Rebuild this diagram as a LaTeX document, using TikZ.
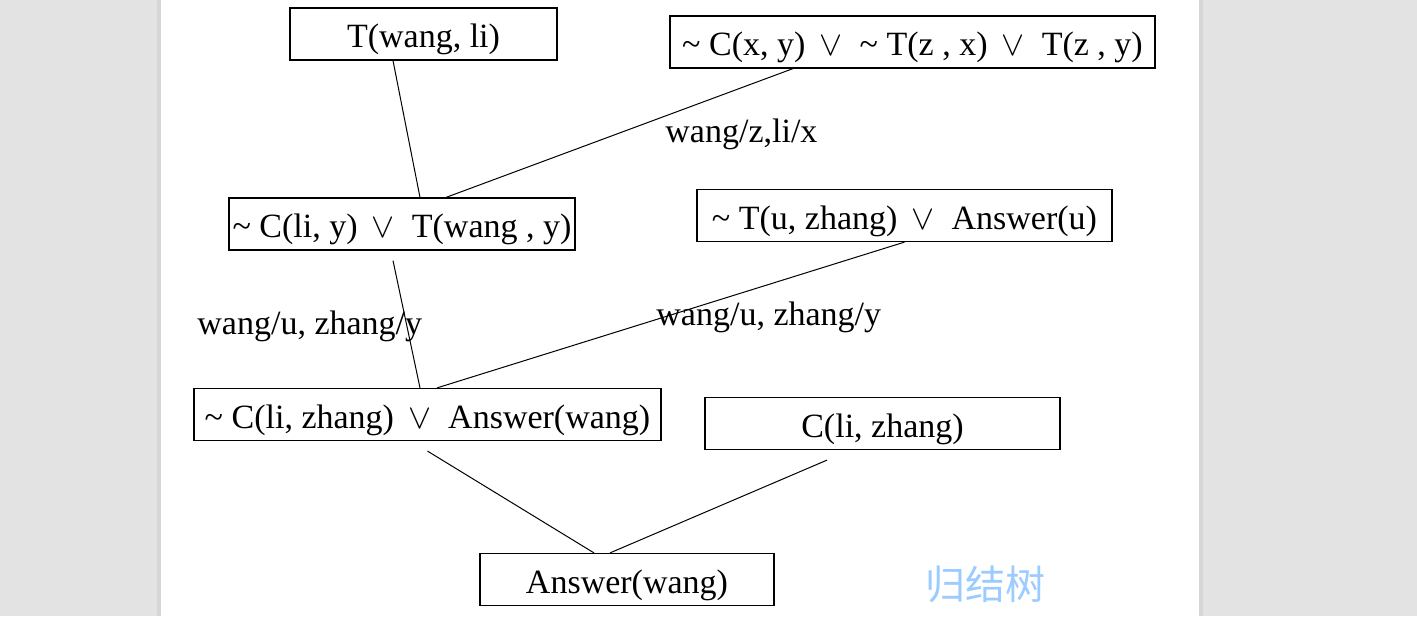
\documentclass[tikz,border=0pt]{standalone}
\usepackage{fontspec}
\setmainfont{Liberation Serif}
\newfontfamily\cjk{Noto Sans CJK SC}
\definecolor{deskgray}{HTML}{E3E3E3}
\definecolor{edgegray}{HTML}{D6D6D6}
\definecolor{treeblue}{HTML}{9CCBFF}
\newcommand{\disj}{\ \,$\vee$\ \ }
\newcommand{\negl}{\textasciitilde\ }

\tikzstyle{clause} = [rectangle, draw, line width=0.6pt, inner sep=0pt, minimum height=26pt, text height=19.75pt, text depth=6.25pt, font=\fontsize{17pt}{20pt}\selectfont]
\tikzstyle{subst} = [inner sep=0pt, anchor=west, font=\fontsize{17pt}{20pt}\selectfont]
\tikzstyle{line} = [draw, line width=0.5pt, color=black]

\begin{document}
\begin{tikzpicture}[x=0.5pt, y=-0.5pt]
    \useasboundingbox (0,0) rectangle (1417,616);
    % page and desk
    \fill [deskgray] (0,0) rectangle (161,616);
    \fill [deskgray] (1199,0) rectangle (1417,616);
    \fill [edgegray] (157,0) rectangle (161,616);
    \fill [edgegray] (1199,0) rectangle (1203,616);

    % Place nodes
    \node [clause, minimum width=133.5pt] (twangli) at (423.5,34) {T(wang, li)};
    \node [clause, minimum width=242.5pt] (rule) at (912.5,42) {\negl C(x, y)\disj\negl T(z , x)\disj T(z , y)};
    \node [clause, minimum width=173pt] (clit) at (402,224) {\negl C(li, y)\disj T(wang , y)};
    \node [clause, minimum width=207.5pt] (goal) at (904.5,215.5) {\negl T(u, zhang)\disj Answer(u)};
    \node [clause, minimum width=233.5pt] (cansw) at (427.5,414.5) {\negl C(li, zhang)\disj Answer(wang)};
    \node [clause, minimum width=177.5pt] (clizhang) at (882.5,423.5) {C(li, zhang)};
    \node [clause, minimum width=147pt] (answer) at (627,579.5) {Answer(wang)};

    \node [subst] (s1) at (665,134) {wang/z,li/x};
    \node [subst] (s2) at (197,326) {wang/u, zhang/y};
    \node [subst] (s3) at (656,317) {wang/u, zhang/y};

    \node [text=treeblue, font=\cjk\fontsize{20pt}{24pt}\selectfont] (title) at (985,584) {归结树};

    % Draw edges
    \path [line] ([xshift=-15.25pt]twangli.south) -- ([xshift=9pt]clit.north);
    \path [line] ([xshift=-59.75pt]rule.south) -- ([xshift=22pt]clit.north);
    \path [line] ([xshift=-4.5pt, yshift=-5pt]clit.south) -- ([xshift=-3.75pt]cansw.north);
    \path [line] (goal.south) -- ([xshift=4.75pt]cansw.north);
    \path [line] ([yshift=-5pt]cansw.south) -- ([xshift=-16.5pt]answer.north);
    \path [line] ([xshift=-27.75pt, yshift=-5pt]clizhang.south) -- ([xshift=-8.5pt]answer.north);
\end{tikzpicture}
\end{document}
